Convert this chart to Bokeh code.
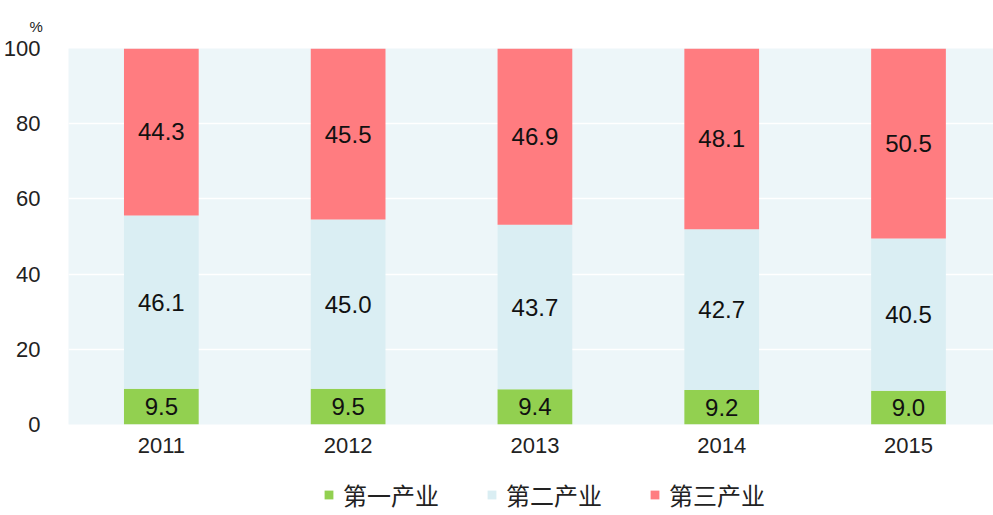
from bokeh.plotting import figure
from bokeh.layouts import column
from bokeh.models import ColumnDataSource, Legend, LegendItem, FixedTicker, Range1d, LabelSet
from bokeh.core.properties import value
from bokeh.embed import file_html
from bokeh.resources import INLINE

years = ["2011", "2012", "2013", "2014", "2015"]
primary = [9.5, 9.5, 9.4, 9.2, 9.0]
secondary = [46.1, 45.0, 43.7, 42.7, 40.5]
tertiary = [44.3, 45.5, 46.9, 48.1, 50.5]
series_names = ["第一产业", "第二产业", "第三产业"]
colors = ["#92D050", "#DAEEF3", "#FF7C80"]
y_ticks = [0, 20, 40, 60, 80, 100]

xs = list(range(1, len(years) + 1))
b1 = [0.0] * len(xs)
t1 = [a for a in primary]
t2 = [a + b for a, b in zip(primary, secondary)]
t3 = [100.0] * len(xs)

src = ColumnDataSource(dict(
    x=xs, b1=b1, t1=t1, t2=t2, t3=t3,
    m1=[(a + b) / 2 for a, b in zip(b1, t1)],
    m2=[(a + b) / 2 for a, b in zip(t1, t2)],
    m3=[(a + b) / 2 for a, b in zip(t2, t3)],
    l1=[f"{v:.1f}" for v in primary],
    l2=[f"{v:.1f}" for v in secondary],
    l3=[f"{v:.1f}" for v in tertiary],
))

p = figure(width=993, height=471, output_backend="svg", toolbar_location=None,
           x_range=Range1d(0.503, 5.455), y_range=Range1d(0, 100),
           min_border_left=67, min_border_top=48, min_border_bottom=47, min_border_right=0)
p.background_fill_color = "#EDF6F9"
p.border_fill_color = "white"
p.outline_line_color = None

p.title.text = "%"
p.title.align = "left"
p.title.offset = -39
p.title.standoff = 28
p.title.text_font = "Liberation Sans"
p.title.text_font_size = "15px"
p.title.text_font_style = "normal"
p.title.text_color = "#222222"

bars = [("b1", "t1"), ("t1", "t2"), ("t2", "t3")]
for (b, t), c in zip(bars, colors):
    p.vbar(x="x", bottom=b, top=t, width=0.4, fill_color=c, line_color=None, source=src)

for m, l in [("m1", "l1"), ("m2", "l2"), ("m3", "l3")]:
    p.add_layout(LabelSet(x="x", y=m, text=l, source=src, text_align="center", text_baseline="middle",
                          text_font=value("Liberation Sans"), text_font_size="24px", text_color="#111111"))

p.xgrid.visible = False
p.ygrid.ticker = FixedTicker(ticks=y_ticks)
p.ygrid.grid_line_color = "white"
p.ygrid.grid_line_width = 1.5
p.grid.level = "underlay"

p.xaxis.ticker = FixedTicker(ticks=xs)
p.xaxis.major_label_overrides = {x: y for x, y in zip(xs, years)}
p.yaxis.ticker = FixedTicker(ticks=y_ticks)
for ax in (p.xaxis[0], p.yaxis[0]):
    ax.axis_line_color = None
    ax.major_tick_line_color = None
    ax.minor_tick_line_color = None
    ax.major_label_text_font = "Liberation Sans"
    ax.major_label_text_font_size = "22px"
    ax.major_label_text_color = "#222222"
p.xaxis.major_label_standoff = 7
p.yaxis.major_label_standoff = 22

# legend strip: same series drawn off-screen so that the legend has its glyphs
lg = figure(width=993, height=44, output_backend="svg", toolbar_location=None,
            x_range=Range1d(-20, -10), y_range=Range1d(0, 1),
            x_axis_location=None, y_axis_location=None,
            min_border_left=67, min_border_right=0, min_border_top=0, min_border_bottom=0)
lg.outline_line_color = None
lg.xgrid.visible = False
lg.ygrid.visible = False
lr = [lg.vbar(x="x", bottom=b, top=t, width=0.4, fill_color=c, line_color=None, source=src)
      for (b, t), c in zip(bars, colors)]
legend = Legend(items=[LegendItem(label=n, renderers=[r]) for n, r in zip(series_names, lr)],
                orientation="horizontal", location=(255, 3),
                label_text_font="Noto Sans CJK SC", label_text_font_size="24px",
                label_text_color="#222222", glyph_width=11, glyph_height=11,
                spacing=47, label_standoff=9, border_line_color=None,
                background_fill_alpha=0, margin=0, padding=0)
lg.add_layout(legend)

layout = column(p, lg, spacing=0)
open("out.html", "w").write(file_html(layout, INLINE))
